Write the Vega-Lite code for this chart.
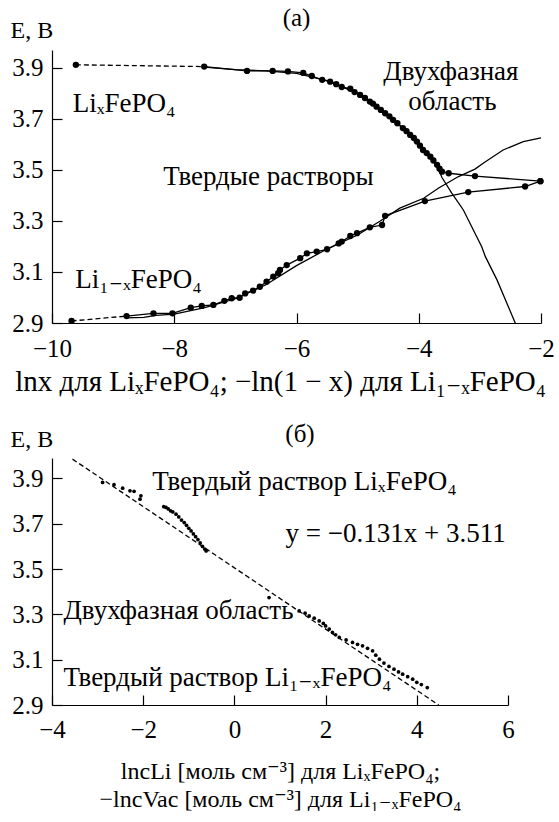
{
  "$schema": "https://vega.github.io/schema/vega-lite/v6.json",
  "background": "white",
  "padding": {"left": 10, "top": 6, "right": 0, "bottom": 0},
  "config": {
    "font": "'Liberation Serif', 'Times New Roman', 'DejaVu Serif', serif",
    "view": {"stroke": null},
    "axis": {
      "grid": false, "domainColor": "black", "tickColor": "black", "labelColor": "black", "titleColor": "black",
      "labelFont": "'Liberation Serif', 'Times New Roman', 'DejaVu Serif', serif", "titleFont": "'Liberation Serif', 'Times New Roman', 'DejaVu Serif', serif",
      "labelFontSize": 25, "titleFontSize": 24,
      "titleFontWeight": "normal", "tickSize": -10, "domainWidth": 1.2, "tickWidth": 1.2,
      "labelFlush": false, "labelOverlap": false
    },
    "title": {"font": "'Liberation Serif', 'Times New Roman', 'DejaVu Serif', serif", "fontSize": 25, "fontWeight": "normal", "color": "black"},
    "text": {"font": "'Liberation Serif', 'Times New Roman', 'DejaVu Serif', serif", "fontSize": 27, "color": "black"},
    "concat": {"spacing": 26}
  },
  "datasets": {
    "a_pts": [
      {"x": -9.61, "y": 3.912, "s": "up"}, {"x": -7.51, "y": 3.905, "s": "up"}, {"x": -6.81, "y": 3.888, "s": "up"},
      {"x": -6.39, "y": 3.888, "s": "up"}, {"x": -6.14, "y": 3.886, "s": "up"}, {"x": -5.89, "y": 3.88, "s": "up"},
      {"x": -5.75, "y": 3.868, "s": "up"}, {"x": -5.58, "y": 3.853, "s": "up"}, {"x": -5.45, "y": 3.846, "s": "up"},
      {"x": -5.35, "y": 3.836, "s": "up"}, {"x": -5.26, "y": 3.825, "s": "up"}, {"x": -5.12, "y": 3.818, "s": "up"},
      {"x": -5.05, "y": 3.805, "s": "up"}, {"x": -4.96, "y": 3.794, "s": "up"}, {"x": -4.88, "y": 3.782, "s": "up"},
      {"x": -4.8, "y": 3.768, "s": "up"}, {"x": -4.75, "y": 3.76, "s": "up"}, {"x": -4.69, "y": 3.748, "s": "up"},
      {"x": -4.62, "y": 3.735, "s": "up"}, {"x": -4.55, "y": 3.722, "s": "up"}, {"x": -4.48, "y": 3.71, "s": "up"},
      {"x": -4.42, "y": 3.696, "s": "up"}, {"x": -4.35, "y": 3.683, "s": "up"}, {"x": -4.26, "y": 3.664, "s": "up"},
      {"x": -4.2, "y": 3.652, "s": "up"}, {"x": -4.14, "y": 3.637, "s": "up"}, {"x": -4.08, "y": 3.625, "s": "up"},
      {"x": -4.03, "y": 3.611, "s": "up"}, {"x": -3.98, "y": 3.595, "s": "up"}, {"x": -3.93, "y": 3.578, "s": "up"},
      {"x": -3.87, "y": 3.566, "s": "up"}, {"x": -3.81, "y": 3.552, "s": "up"}, {"x": -3.76, "y": 3.537, "s": "up"},
      {"x": -3.7, "y": 3.52, "s": "up"}, {"x": -3.66, "y": 3.505, "s": "up"}, {"x": -3.62, "y": 3.493, "s": "up"},
      {"x": -3.51, "y": 3.487, "s": "up"}, {"x": -3.08, "y": 3.476, "s": "up"}, {"x": -2.01, "y": 3.456, "s": "up"},
      {"x": -9.68, "y": 2.908, "s": "lo"}, {"x": -8.78, "y": 2.927, "s": "lo"}, {"x": -8.34, "y": 2.938, "s": "lo"},
      {"x": -8.03, "y": 2.938, "s": "lo"}, {"x": -7.73, "y": 2.96, "s": "lo"}, {"x": -7.55, "y": 2.967, "s": "lo"},
      {"x": -7.36, "y": 2.971, "s": "lo"}, {"x": -7.18, "y": 2.987, "s": "lo"}, {"x": -7.06, "y": 2.997, "s": "lo"},
      {"x": -6.93, "y": 2.999, "s": "lo"}, {"x": -6.84, "y": 3.016, "s": "lo"}, {"x": -6.71, "y": 3.027, "s": "lo"},
      {"x": -6.6, "y": 3.042, "s": "lo"}, {"x": -6.49, "y": 3.062, "s": "lo"}, {"x": -6.38, "y": 3.082, "s": "lo"},
      {"x": -6.3, "y": 3.095, "s": "lo"}, {"x": -6.27, "y": 3.108, "s": "lo"}, {"x": -6.16, "y": 3.127, "s": "lo"},
      {"x": -5.94, "y": 3.154, "s": "lo"}, {"x": -5.83, "y": 3.173, "s": "lo"}, {"x": -5.67, "y": 3.18, "s": "lo"},
      {"x": -5.5, "y": 3.189, "s": "lo"}, {"x": -5.31, "y": 3.212, "s": "lo"}, {"x": -5.26, "y": 3.219, "s": "lo"},
      {"x": -5.12, "y": 3.241, "s": "lo"}, {"x": -5.01, "y": 3.252, "s": "lo"}, {"x": -4.8, "y": 3.275, "s": "lo"},
      {"x": -4.6, "y": 3.284, "s": "lo"}, {"x": -4.55, "y": 3.32, "s": "lo"}, {"x": -3.9, "y": 3.378, "s": "lo"},
      {"x": -3.19, "y": 3.413, "s": "lo"}, {"x": -2.26, "y": 3.435, "s": "lo"}, {"x": -2.01, "y": 3.456, "s": "lo"}
    ],
    "a_dash": [
      {"x": -9.61, "y": 3.912, "s": "up"}, {"x": -7.51, "y": 3.905, "s": "up"},
      {"x": -9.68, "y": 2.908, "s": "lo"}, {"x": -8.78, "y": 2.927, "s": "lo"}
    ],
    "a_model": [
      {"x": -7.51, "y": 3.903, "s": "up"}, {"x": -7.0, "y": 3.893, "s": "up"}, {"x": -6.5, "y": 3.888, "s": "up"},
      {"x": -6.0, "y": 3.878, "s": "up"}, {"x": -5.5, "y": 3.85, "s": "up"}, {"x": -5.0, "y": 3.8, "s": "up"},
      {"x": -4.5, "y": 3.715, "s": "up"}, {"x": -4.0, "y": 3.605, "s": "up"}, {"x": -3.7, "y": 3.515, "s": "up"},
      {"x": -3.62, "y": 3.47, "s": "up"}, {"x": -3.46, "y": 3.409, "s": "up"}, {"x": -3.27, "y": 3.343, "s": "up"},
      {"x": -2.97, "y": 3.199, "s": "up"}, {"x": -2.91, "y": 3.16, "s": "up"}, {"x": -2.72, "y": 3.069, "s": "up"},
      {"x": -2.42, "y": 2.899, "s": "up"},
      {"x": -8.78, "y": 2.92, "s": "lo"}, {"x": -8.5, "y": 2.922, "s": "lo"}, {"x": -8.3, "y": 2.93, "s": "lo"},
      {"x": -8.0, "y": 2.935, "s": "lo"}, {"x": -7.5, "y": 2.96, "s": "lo"}, {"x": -7.0, "y": 2.995, "s": "lo"},
      {"x": -6.5, "y": 3.05, "s": "lo"}, {"x": -6.0, "y": 3.125, "s": "lo"}, {"x": -5.5, "y": 3.19, "s": "lo"},
      {"x": -5.0, "y": 3.245, "s": "lo"}, {"x": -4.63, "y": 3.3, "s": "lo"}, {"x": -4.31, "y": 3.35, "s": "lo"},
      {"x": -3.92, "y": 3.389, "s": "lo"}, {"x": -3.68, "y": 3.428, "s": "lo"}, {"x": -3.35, "y": 3.474, "s": "lo"},
      {"x": -3.08, "y": 3.503, "s": "lo"}, {"x": -2.94, "y": 3.527, "s": "lo"}, {"x": -2.62, "y": 3.578, "s": "lo"},
      {"x": -2.29, "y": 3.611, "s": "lo"}, {"x": -2.0, "y": 3.626, "s": "lo"}
    ],
    "a_text": [
      {"x": -9.66, "y": 3.727, "t": "LiₓFePO₄"},
      {"x": -4.58, "y": 3.853, "t": "Двухфазная"},
      {"x": -4.17, "y": 3.735, "t": "область"},
      {"x": -8.18, "y": 3.441, "t": "Твердые растворы"},
      {"x": -9.62, "y": 3.036, "t": "Li₁₋ₓFePO₄"}
    ],
    "b_fit": [
      {"x": -3.55, "y": 3.985}, {"x": 4.48, "y": 2.9}
    ],
    "b_pts": [
      {"x": -2.89, "y": 3.882}, {"x": -2.64, "y": 3.872}, {"x": -2.45, "y": 3.857}, {"x": -2.29, "y": 3.845},
      {"x": -2.2, "y": 3.843}, {"x": -2.05, "y": 3.823}, {"x": -2.07, "y": 3.808},
      {"x": -1.55, "y": 3.775}, {"x": -1.5, "y": 3.772}, {"x": -1.45, "y": 3.765}, {"x": -1.4, "y": 3.757},
      {"x": -1.35, "y": 3.752}, {"x": -1.28, "y": 3.742}, {"x": -1.22, "y": 3.73}, {"x": -1.16, "y": 3.716},
      {"x": -1.1, "y": 3.705}, {"x": -1.05, "y": 3.693}, {"x": -1.0, "y": 3.68}, {"x": -0.95, "y": 3.668},
      {"x": -0.9, "y": 3.655}, {"x": -0.85, "y": 3.643}, {"x": -0.8, "y": 3.63}, {"x": -0.75, "y": 3.615},
      {"x": -0.7, "y": 3.6}, {"x": -0.65, "y": 3.588}, {"x": -0.62, "y": 3.58},
      {"x": 0.76, "y": 3.374}, {"x": 1.42, "y": 3.315}, {"x": 1.55, "y": 3.305}, {"x": 1.64, "y": 3.293},
      {"x": 1.75, "y": 3.283}, {"x": 1.86, "y": 3.271}, {"x": 1.95, "y": 3.26}, {"x": 2.0, "y": 3.249},
      {"x": 2.08, "y": 3.235}, {"x": 2.15, "y": 3.22}, {"x": 2.22, "y": 3.21}, {"x": 2.3, "y": 3.198},
      {"x": 2.45, "y": 3.187}, {"x": 2.59, "y": 3.176}, {"x": 2.7, "y": 3.168}, {"x": 2.81, "y": 3.161},
      {"x": 2.92, "y": 3.15}, {"x": 3.03, "y": 3.139}, {"x": 3.1, "y": 3.12}, {"x": 3.18, "y": 3.102},
      {"x": 3.28, "y": 3.085}, {"x": 3.39, "y": 3.07}, {"x": 3.5, "y": 3.058}, {"x": 3.6, "y": 3.046},
      {"x": 3.69, "y": 3.036}, {"x": 3.8, "y": 3.025}, {"x": 3.91, "y": 3.014}, {"x": 4.0, "y": 3.0},
      {"x": 4.1, "y": 2.99}, {"x": 4.23, "y": 2.977}
    ],
    "b_text": [
      {"x": -1.8, "y": 3.848, "t": "Твердый раствор LiₓFePO₄"},
      {"x": 1.12, "y": 3.619, "t": "y = −0.131x + 3.511"},
      {"x": -3.75, "y": 3.279, "t": "Двухфазная область"},
      {"x": -3.75, "y": 2.984, "t": "Твердый раствор Li₁₋ₓFePO₄"}
    ]
  },
  "vconcat": [
    {
      "title": {"text": "(a)", "offset": -13},
      "width": 489,
      "height": 273,
      "encoding": {
        "x": {"field": "x", "type": "quantitative",
          "scale": {"domain": [-10, -2], "nice": false, "zero": false},
          "axis": {"title": "lnx для LiₓFePO₄; −ln(1 − x) для Li₁₋ₓFePO₄", "values": [-10, -8, -6, -4, -2], "format": "d",
            "labelPadding": 23, "titleX": 228, "titleY": 67, "titleBaseline": "alphabetic", "titleFontSize": 29}},
        "y": {"field": "y", "type": "quantitative",
          "scale": {"domain": [2.9, 3.97], "nice": false, "zero": false},
          "axis": {"title": "E, В", "values": [2.9, 3.1, 3.3, 3.5, 3.7, 3.9], "format": ".1f", "labelPadding": 19,
            "titleAngle": 0, "titleX": -42, "titleY": -13, "titleAlign": "left", "titleBaseline": "alphabetic"}}
      },
      "layer": [
        {"data": {"name": "a_model"}, "mark": {"type": "line", "color": "black", "strokeWidth": 1.3},
          "encoding": {"detail": {"field": "s"}}},
        {"data": {"name": "a_pts"}, "transform": [{"filter": "datum.x > -9.5"}],
          "mark": {"type": "line", "color": "black", "strokeWidth": 1.3},
          "encoding": {"detail": {"field": "s"}}},
        {"data": {"name": "a_dash"}, "mark": {"type": "line", "color": "black", "strokeWidth": 1.3, "strokeDash": [5, 3]},
          "encoding": {"detail": {"field": "s"}}},
        {"data": {"name": "a_pts"}, "mark": {"type": "circle", "color": "black", "opacity": 1, "size": 40}},
        {"data": {"name": "a_text"}, "mark": {"type": "text", "align": "left", "baseline": "alphabetic"},
          "encoding": {"text": {"field": "t"}}}
      ]
    },
    {
      "title": {"text": "(б)", "offset": -20, "dx": 20},
      "width": 456,
      "height": 247,
      "encoding": {
        "x": {"field": "x", "type": "quantitative",
          "scale": {"domain": [-4, 6], "nice": false, "zero": false},
          "axis": {"title": ["lncLi [моль см⁻³] для LiₓFePO₄;", "−lncVac [моль см⁻³] для Li₁₋ₓFePO₄"],
            "values": [-4, -2, 0, 2, 4, 6], "format": "d", "labelPadding": 22,
            "titleY": 73, "titleBaseline": "alphabetic", "titleLineHeight": 28}},
        "y": {"field": "y", "type": "quantitative",
          "scale": {"domain": [2.9, 3.99], "nice": false, "zero": false},
          "axis": {"title": "E, В", "values": [2.9, 3.1, 3.3, 3.5, 3.7, 3.9], "format": ".1f", "labelPadding": 19,
            "titleAngle": 0, "titleX": -42, "titleY": -12, "titleAlign": "left", "titleBaseline": "alphabetic"}}
      },
      "layer": [
        {"data": {"name": "b_fit"}, "mark": {"type": "line", "color": "black", "strokeWidth": 1.3, "strokeDash": [5, 3]},
          "encoding": {}},
        {"data": {"name": "b_pts"}, "mark": {"type": "circle", "color": "black", "opacity": 1, "size": 14}},
        {"data": {"name": "b_text"}, "mark": {"type": "text", "align": "left", "baseline": "alphabetic"},
          "encoding": {"text": {"field": "t"}}}
      ]
    }
  ]
}
